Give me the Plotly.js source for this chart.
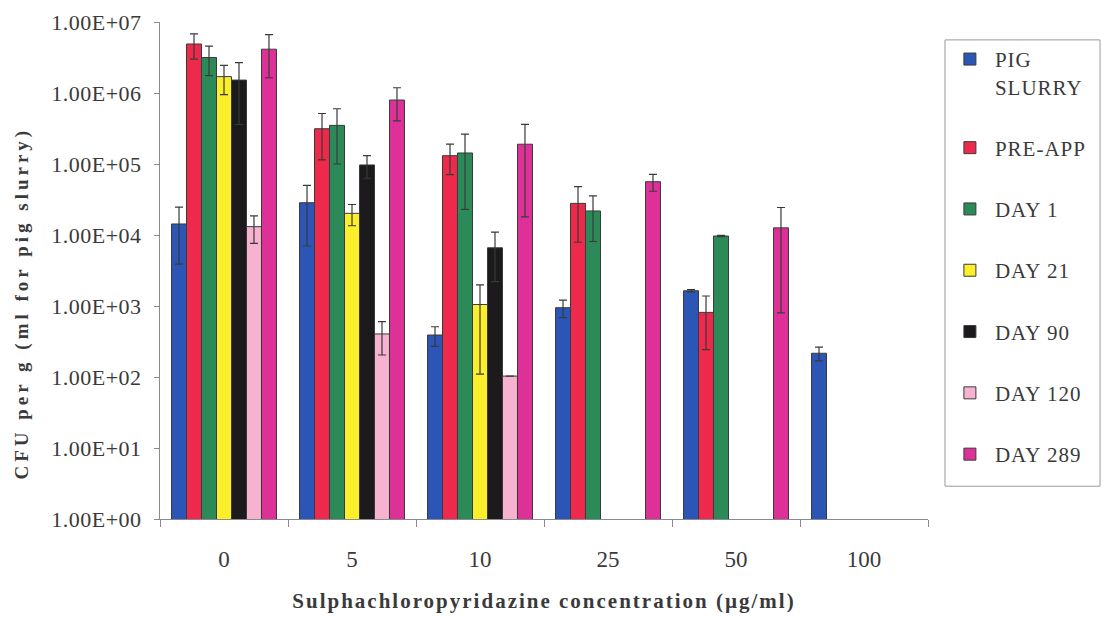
<!DOCTYPE html>
<html>
<head>
<meta charset="utf-8">
<script src="https://cdn.plot.ly/plotly-3.0.1.min.js"></script>
<style>
  html, body { margin: 0; padding: 0; background: #ffffff; }
  #chart { width: 1103px; height: 617px; }
  /* widen the serif lettering a little */
  .xtitle { letter-spacing: 2px; }
  .annotation-text { letter-spacing: 4px; }
  .legendtext { letter-spacing: 1px; }
  .ytick text { letter-spacing: 0.5px; }
</style>
</head>
<body>
<div id="chart"></div>
<script>
// Sulphachloropyridazine concentrations (µg/ml)
const concentrations = ['0', '5', '10', '25', '50', '100'];

// Mean CFU per g (per ml for pig slurry); null = no growth recorded
const pigSlurry = [14300, 28500, 390, 946, 1640, 216];
const preApp    = [4900000, 314000, 131000, 27900, 813, null];
const day1      = [3160000, 350000, 143000, 21800, 9680, null];
const day21     = [1700000, 20200, 1050, null, null, null];
const day90     = [1520000, 97000, 6600, null, null, null];
const day120    = [13100, 404, 103, null, null, null];
const day289    = [4140000, 796000, 190000, 56300, 12600, null];

// Error bar half-widths (standard deviation)
const pigSlurryErr = [10400, 21500, 120, 260, 60, 47];
const preAppErr    = [1900000, 200000, 60000, 20000, 570, null];
const day1Err      = [1400000, 250000, 120000, 13700, 200, null];
const day21Err     = [750000, 6700, 940, null, null, null];
const day90Err     = [1160000, 34000, 4400, null, null, null];
const day120Err    = [5500, 200, null, null, null, null];
const day289Err    = [2500000, 390000, 172000, 15000, 11800, null];

const seriesNames = ['PIG<br>SLURRY', 'PRE-APP', 'DAY 1', 'DAY 21', 'DAY 90', 'DAY 120', 'DAY 289'];
const seriesColors = ['#2b56b5', '#ee2a4c', '#2b8a58', '#fbee2a', '#1c1a1c', '#f6b2cf', '#dd3198'];

// Y axis ticks
const yTickVals = [1, 10, 100, 1000, 10000, 100000, 1000000, 10000000];
const yTickText = ['1.00E+00', '1.00E+01', '1.00E+02', '1.00E+03', '1.00E+04', '1.00E+05', '1.00E+06', '1.00E+07'];

const xTitle = 'Sulphachloropyridazine concentration (µg/ml)';
const yTitle = 'CFU per g (ml for pig slurry)';

const values = [pigSlurry, preApp, day1, day21, day90, day120, day289];
const errors = [pigSlurryErr, preAppErr, day1Err, day21Err, day90Err, day120Err, day289Err];

const traces = values.map((vals, i) => ({
  type: 'bar',
  name: seriesNames[i],
  legendgroup: 'g' + i,
  x: concentrations,
  y: vals,
  marker: { color: seriesColors[i], line: { color: '#3a3a3a', width: 1 } },
  error_y: {
    type: 'data',
    array: errors[i],
    visible: true,
    color: '#3a3a3a',
    thickness: 1.2,
    width: 4
  },
  hoverinfo: 'x+y+name'
}));

const serif = '"Liberation Serif", "Times New Roman", serif';

const layout = {
  width: 1103,
  height: 617,
  margin: { l: 160, r: 175, t: 22, b: 98, autoexpand: false },
  paper_bgcolor: '#ffffff',
  plot_bgcolor: '#ffffff',
  font: { family: serif, color: '#3a3a3a' },
  barmode: 'group',
  bargap: 0.18,
  bargroupgap: 0,
  showlegend: true,
  legend: {
    x: 1.022,
    xanchor: 'left',
    y: 0.966,
    yanchor: 'top',
    borderwidth: 0,
    bgcolor: 'rgba(0,0,0,0)',
    font: { family: serif, size: 21, color: '#3a3a3a' },
    tracegroupgap: 31,
    valign: 'top',
    itemwidth: 40
  },
  // frame around the legend
  shapes: [{
    type: 'rect',
    xref: 'paper',
    yref: 'paper',
    x0: 1.0221,
    x1: 1.224,
    y0: 0.066,
    y1: 0.964,
    line: { color: '#9a9a9a', width: 1 },
    fillcolor: 'rgba(0,0,0,0)',
    layer: 'below'
  }],
  xaxis: {
    type: 'category',
    showline: true,
    linecolor: '#8a8a8a',
    linewidth: 1,
    ticks: 'outside',
    tickson: 'boundaries',
    ticklen: 7,
    tickcolor: '#8a8a8a',
    ticklabelstandoff: 19,
    tickfont: { family: serif, size: 23, color: '#3a3a3a' },
    showgrid: false,
    zeroline: false,
    title: {
      text: '<b>' + xTitle + '</b>',
      font: { family: serif, size: 21, color: '#3a3a3a' },
      standoff: 22
    }
  },
  yaxis: {
    type: 'log',
    range: [0, 7],
    showline: true,
    linecolor: '#8a8a8a',
    linewidth: 1,
    ticks: 'outside',
    ticklen: 5,
    tickcolor: '#8a8a8a',
    tickvals: yTickVals,
    ticktext: yTickText,
    tickfont: { family: serif, size: 22, color: '#3a3a3a' },
    ticklabelstandoff: 8,
    showgrid: false,
    zeroline: false
  },
  annotations: [{
    text: '<b>' + yTitle + '</b>',
    textangle: -90,
    xref: 'paper',
    yref: 'paper',
    x: -0.18,
    y: 0.435,
    xanchor: 'center',
    yanchor: 'middle',
    showarrow: false,
    font: { family: serif, size: 19, color: '#3a3a3a' }
  }]
};

Plotly.newPlot('chart', traces, layout, { displayModeBar: false, staticPlot: true });
</script>
</body>
</html>
